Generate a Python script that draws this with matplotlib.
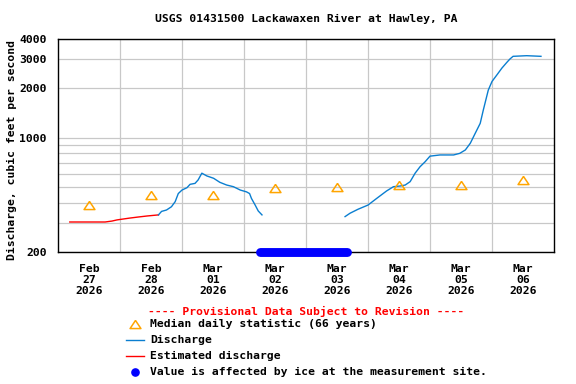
import matplotlib
matplotlib.use("Agg")
import matplotlib.pyplot as plt
from matplotlib.lines import Line2D
import numpy as np
import pandas as pd

T0 = pd.Timestamp('2026-02-27')

# estimated discharge (days since Feb 27 00:00, cfs)
est_days = [0.19, 0.76, 0.87, 0.95, 1.05, 1.15, 1.29, 1.44, 1.62]
est_q    = [305, 305, 309, 314, 318, 322, 327, 332, 337]

# discharge, before ice period
q1_days = [1.62, 1.67, 1.75, 1.83, 1.89, 1.94, 2.00, 2.08, 2.13, 2.21, 2.26, 2.32,
           2.40, 2.51, 2.61, 2.72, 2.83, 2.94, 3.04, 3.09, 3.12, 3.18, 3.23, 3.29]
q1_q    = [337, 354, 361, 378, 406, 455, 478, 494, 518, 525, 551, 606,
           583, 564, 533, 513, 501, 478, 466, 455, 425, 387, 356, 337]

# discharge, after ice period
q2_days = [4.63, 4.71, 4.84, 5.00, 5.14, 5.30, 5.41, 5.52, 5.60, 5.68, 5.76, 5.84,
           5.92, 6.00, 6.16, 6.38, 6.48, 6.57, 6.65, 6.73, 6.81, 6.86, 6.94, 7.00,
           7.08, 7.16, 7.24, 7.29, 7.34, 7.56, 7.79]
q2_q    = [329, 345, 365, 387, 425, 472, 501, 506, 513, 538, 606, 664,
           711, 770, 783, 783, 801, 840, 923, 1063, 1222, 1474, 1949, 2201,
           2417, 2658, 2881, 3021, 3135, 3163, 3135]

# median daily statistic
median_days = [0.5, 1.5, 2.5, 3.5, 4.5, 5.5, 6.5, 7.5]
median_q    = [390, 443, 443, 495, 501, 510, 515, 553]

# ice-affected period
ice_days = [3.26, 4.66]

def at(days):
    return T0 + pd.to_timedelta(np.asarray(days), unit='D')

FONT = 'DejaVu Sans Mono'
FS = 8.2
BLUE = '#0a7ed0'
ORANGE = '#ffa500'
TRI = [(0, 0.75), (-1, -0.75), (1, -0.75), (0, 0.75)]

fig = plt.figure(figsize=(5.76, 3.84), dpi=100)
ax = fig.add_axes([58/576, 1 - 252/384, 496/576, 213/384])

ax.plot(at(est_days), est_q, color='red', lw=1.0, zorder=3)
ax.plot(at(q1_days), q1_q, color=BLUE, lw=1.0, zorder=3)
ax.plot(at(q2_days), q2_q, color=BLUE, lw=1.0, zorder=3)
ax.plot(at(median_days), median_q, ls='none', marker=TRI, ms=7.8,
        mfc='none', mec=ORANGE, mew=1.1, zorder=4)
ax.plot(at(ice_days), [200, 200], color='#0000ff', lw=6.4,
        solid_capstyle='round', clip_on=False, zorder=5)

ax.set_yscale('log')
ax.set_ylim(200, 4000)
ax.set_xlim(at(0), at(8))

ax.set_yticks([200, 1000, 2000, 3000, 4000], labels=['200', '1000', '2000', '3000', '4000'])
ax.set_yticks([300, 400, 500, 600, 700, 800, 900], minor=True)
ax.yaxis.set_minor_formatter(matplotlib.ticker.NullFormatter())

noon = at(np.arange(8) + 0.5)
ax.set_xticks(noon, labels=[t.strftime('%b\n%d\n%Y') for t in noon])
ax.set_xticks(at(np.arange(1, 8)), minor=True)

ax.tick_params(which='both', length=0)
ax.tick_params(axis='y', pad=8)
ax.tick_params(axis='x', pad=9)
for lbl in ax.get_xticklabels() + ax.get_yticklabels():
    lbl.set_fontfamily(FONT)
    lbl.set_fontweight('bold')
    lbl.set_fontsize(FS)
for lbl in ax.get_xticklabels():
    lbl.set_linespacing(1.12)

ax.grid(True, which='both', color='#c8c8c8', lw=0.9)
ax.grid(False, which='major', axis='x')
ax.set_axisbelow(True)
for s in ax.spines.values():
    s.set_linewidth(1.0)

txt = dict(family=FONT, weight='bold', size=FS)
fig.text(306/576, 1 - 19/384, 'USGS 01431500 Lackawaxen River at Hawley, PA',
         ha='center', va='center', **txt)
fig.text(12/576, 1 - 150/384, 'Discharge, cubic feet per second',
         rotation=90, ha='center', va='center', **txt)
fig.text(306/576, 1 - 311/384, '---- Provisional Data Subject to Revision ----',
         ha='center', va='center', color='red', **txt)

rows = [324, 340, 356, 372]
labels = ['Median daily statistic (66 years)', 'Discharge',
          'Estimated discharge', 'Value is affected by ice at the measurement site.']
for y, lab in zip(rows, labels):
    fig.text(150/576, 1 - y/384, lab, ha='left', va='center', **txt)

yy = [1 - y/384 for y in rows]
fig.add_artist(Line2D([135/576], [yy[0]], ls='none', marker=TRI, ms=7.8,
                      mfc='none', mec=ORANGE, mew=1.1))
fig.add_artist(Line2D([126/576, 144/576], [yy[1]] * 2, color=BLUE, lw=1.0))
fig.add_artist(Line2D([126/576, 144/576], [yy[2]] * 2, color='red', lw=1.0))
fig.add_artist(Line2D([135/576], [yy[3]], ls='none', marker='o', ms=5.2,
                      color='#0000ff'))

fig.savefig('out.png', dpi=100)
